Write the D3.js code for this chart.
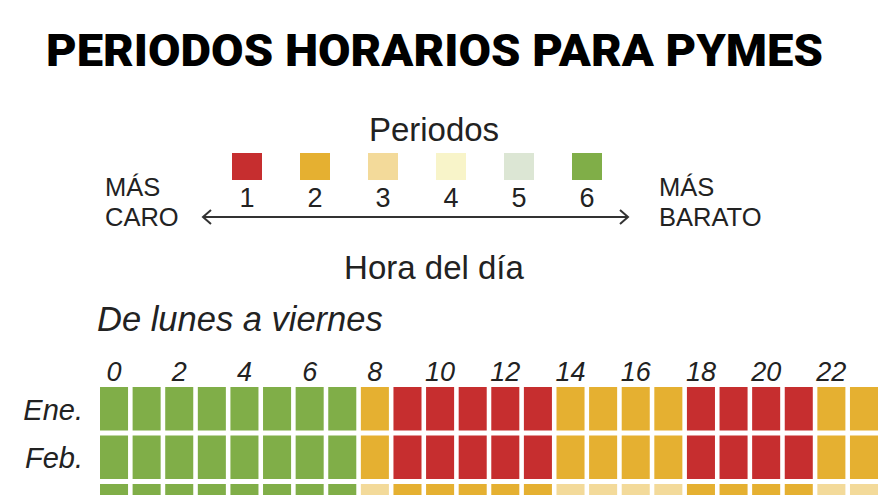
<!DOCTYPE html>
<html>
<head>
<meta charset="utf-8">
<script src="https://cdn.jsdelivr.net/npm/d3@7"></script>
<style>
  html, body { margin: 0; padding: 0; background: #fff; }
  svg { display: block; }
  text { font-family: "Liberation Sans", Arial, sans-serif; fill: #222; }
</style>
</head>
<body>
<svg id="chart" width="880" height="495"></svg>
<script>
// ---- DATA ----
const title = "PERIODOS HORARIOS PARA PYMES";
const subtitle = "De lunes a viernes";
const legendTitle = "Periodos";
const axisTitle = "Hora del día";
const periods = [1, 2, 3, 4, 5, 6];
const periodColors = ["#c62e2f", "#e5b031", "#f3da9a", "#f8f4c9", "#dce6d4", "#80ae48"];
const hours = [0,1,2,3,4,5,6,7,8,9,10,11,12,13,14,15,16,17,18,19,20,21,22,23];
const hourTicks = [0, 2, 4, 6, 8, 10, 12, 14, 16, 18, 20, 22];
const months = ["Ene.", "Feb.", "Mar."];
// period per hour (0..23) for each month, weekdays
const periodsEne = [6,6,6,6,6,6,6,6,2,1,1,1,1,1,2,2,2,2,1,1,1,1,2,2];
const periodsFeb = [6,6,6,6,6,6,6,6,2,1,1,1,1,1,2,2,2,2,1,1,1,1,2,2];
const periodsMar = [6,6,6,6,6,6,6,6,3,2,2,2,2,2,3,3,3,3,2,2,2,2,3,3];
const monthValues = [periodsEne, periodsFeb, periodsMar];

// ---- CHART ----
const svg = d3.select("#chart");

// title
svg.append("text")
  .attr("x", 46).attr("y", 66)
  .attr("textLength", 777).attr("lengthAdjust", "spacingAndGlyphs")
  .style("font-family", "Roboto, 'Liberation Sans', sans-serif")
  .style("font-weight", 900).style("font-size", "45px").style("fill", "#000")
  .text(title);

// legend
const color = d3.scaleOrdinal().domain(periods).range(periodColors);
const lx = d3.scalePoint().domain(periods).range([247, 587]);

svg.append("text").attr("x", 434).attr("y", 141).attr("text-anchor", "middle")
  .style("font-size", "33px").text(legendTitle);

const lg = svg.append("g");
lg.selectAll("rect").data(periods).join("rect")
  .attr("x", d => lx(d) - 15).attr("y", 153)
  .attr("width", 30).attr("height", 27)
  .attr("fill", d => color(d));
lg.selectAll("text").data(periods).join("text")
  .attr("x", d => lx(d)).attr("y", 207).attr("text-anchor", "middle")
  .style("font-size", "27px").text(d => d);

// side labels
svg.append("text").attr("x", 105).attr("y", 196).style("font-size", "25.5px").text("MÁS");
svg.append("text").attr("x", 105).attr("y", 226).style("font-size", "25.5px").text("CARO");
svg.append("text").attr("x", 659).attr("y", 196).style("font-size", "25.5px").text("MÁS");
svg.append("text").attr("x", 659).attr("y", 226).style("font-size", "25.5px").text("BARATO");

// arrow
const ay = 217;
const arrow = svg.append("g").attr("stroke", "#333").attr("stroke-width", 2).attr("fill", "none");
arrow.append("line").attr("x1", 203).attr("x2", 628).attr("y1", ay).attr("y2", ay);
arrow.append("path").attr("d", `M211,${ay-7} L203,${ay} L211,${ay+7}`);
arrow.append("path").attr("d", `M620,${ay-7} L628,${ay} L620,${ay+7}`);

svg.append("text").attr("x", 434).attr("y", 279).attr("text-anchor", "middle")
  .style("font-size", "33px").text(axisTitle);

// subtitle
svg.append("text").attr("x", 97).attr("y", 331)
  .style("font-size", "34.5px").style("font-style", "italic").text(subtitle);

// heatmap scales
const x = d3.scaleBand().domain(hours).range([100, 878]).paddingInner(0.14).paddingOuter(0);
const y = d3.scaleBand().domain(months).range([387, 527.5]).paddingInner(0.103).paddingOuter(0);

// hour ticks
svg.append("g").selectAll("text").data(hourTicks).join("text")
  .attr("x", d => x(d) + x.bandwidth() / 2).attr("y", 381)
  .attr("text-anchor", "middle")
  .style("font-size", "27px").style("font-style", "italic")
  .text(d => d);

// month labels
svg.append("g").selectAll("text").data(months).join("text")
  .attr("x", 83).attr("y", d => y(d) + y.bandwidth() / 2 + 11)
  .attr("text-anchor", "end")
  .style("font-size", "29px").style("font-style", "italic")
  .text(d => d);

// cells
const rows = svg.append("g").selectAll("g").data(months).join("g")
  .attr("transform", d => `translate(0,${y(d)})`);
rows.selectAll("rect").data((m, i) => monthValues[i].map((p, h) => ({ h, p })))
  .join("rect")
  .attr("x", d => x(d.h)).attr("y", 0)
  .attr("width", x.bandwidth()).attr("height", y.bandwidth())
  .attr("fill", d => color(d.p));
</script>
</body>
</html>
